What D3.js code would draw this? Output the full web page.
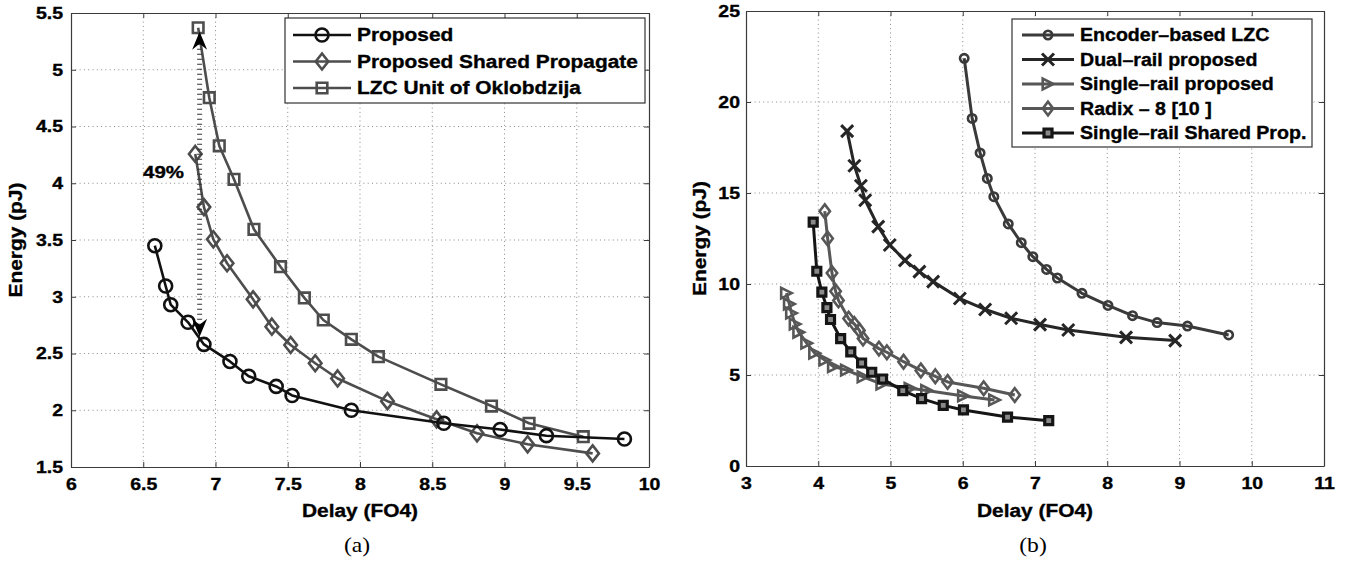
<!DOCTYPE html>
<html><head><meta charset="utf-8">
<script src="https://cdn.jsdelivr.net/npm/d3@7"></script>
<style>body{margin:0;background:#fff} svg{display:block}</style>
</head><body>
<svg id="c" width="1346" height="561"></svg>
<script>
// ---------- Panel (a) data ----------
const xTicksA = [6, 6.5, 7, 7.5, 8, 8.5, 9, 9.5, 10];
const yTicksA = [1.5, 2, 2.5, 3, 3.5, 4, 4.5, 5, 5.5];
const legendA = ["Proposed", "Proposed Shared Propagate", "LZC Unit of Oklobdzija"];
const propX   = [6.58, 6.655, 6.69, 6.81, 6.92, 7.10, 7.23, 7.42, 7.53, 7.94, 8.58, 8.97, 9.29, 9.83];
const propY   = [3.45, 3.095, 2.93, 2.775, 2.58, 2.43, 2.30, 2.21, 2.13, 2.00, 1.885, 1.83, 1.776, 1.747];
const sharedX = [6.86, 6.92, 6.985, 7.08, 7.26, 7.39, 7.52, 7.69, 7.845, 8.19, 8.53, 8.81, 9.16, 9.61];
const sharedY = [4.258, 3.79, 3.506, 3.295, 2.977, 2.736, 2.575, 2.414, 2.28, 2.08, 1.92, 1.797, 1.70, 1.62];
const lzcX    = [6.88, 6.957, 7.026, 7.128, 7.266, 7.45, 7.615, 7.746, 7.94, 8.127, 8.56, 8.91, 9.17, 9.545];
const lzcY    = [5.37, 4.754, 4.33, 4.035, 3.594, 3.265, 2.99, 2.795, 2.625, 2.472, 2.228, 2.037, 1.885, 1.767];
const arrowDelay = 6.89, arrowTop = 5.335, arrowBottom = 2.648;
const pctLabel = "49%", pctX = 6.64, pctY = 4.046;

// ---------- Panel (b) data ----------
const xTicksB = [3, 4, 5, 6, 7, 8, 9, 10, 11];
const yTicksB = [0, 5, 10, 15, 20, 25];
const legendB = ["Encoder–based LZC", "Dual–rail proposed", "Single–rail proposed", "Radix – 8 [10 ]", "Single–rail Shared Prop."];
const encX  = [6.02, 6.13, 6.24, 6.34, 6.43, 6.63, 6.81, 6.97, 7.16, 7.31, 7.65, 8.01, 8.35, 8.69, 9.11, 9.68];
const encY  = [22.4, 19.1, 17.2, 15.8, 14.8, 13.3, 12.27, 11.5, 10.8, 10.33, 9.49, 8.82, 8.26, 7.88, 7.69, 7.2];
const dualX = [4.40, 4.50, 4.59, 4.65, 4.83, 4.99, 5.20, 5.40, 5.59, 5.96, 6.31, 6.67, 7.07, 7.46, 8.26, 8.94];
const dualY = [18.4, 16.5, 15.4, 14.6, 13.15, 12.14, 11.3, 10.68, 10.13, 9.2, 8.6, 8.12, 7.77, 7.47, 7.07, 6.89];
const singX = [3.56, 3.60, 3.63, 3.68, 3.73, 3.84, 3.95, 4.09, 4.21, 4.39, 4.62, 4.88, 5.27, 5.50, 6.01, 6.44];
const singY = [9.5, 8.9, 8.4, 7.8, 7.35, 6.75, 6.2, 5.82, 5.46, 5.27, 4.9, 4.5, 4.27, 4.15, 3.85, 3.63];
const radX  = [4.09, 4.13, 4.19, 4.24, 4.28, 4.42, 4.50, 4.57, 4.62, 4.84, 4.95, 5.18, 5.42, 5.62, 5.79, 6.29, 6.72];
const radY  = [14.0, 12.5, 10.6, 9.6, 9.1, 8.1, 7.8, 7.45, 7.0, 6.45, 6.25, 5.73, 5.25, 4.93, 4.62, 4.27, 3.9];
const shpX  = [3.93, 3.98, 4.05, 4.12, 4.17, 4.31, 4.45, 4.60, 4.74, 4.89, 5.17, 5.43, 5.73, 6.01, 6.62, 7.19];
const shpY  = [13.4, 10.7, 9.55, 8.7, 8.05, 7.0, 6.27, 5.66, 5.15, 4.78, 4.14, 3.7, 3.33, 3.08, 2.69, 2.49];

const xLabel = "Delay (FO4)", yLabel = "Energy (pJ)";

// ---------- drawing ----------
const svg = d3.select("#c");
const FONT = "'Liberation Sans', Arial, Helvetica, sans-serif";
const SERIF = "'Liberation Serif', 'Times New Roman', serif";

function txt(g, x, y, s, o) {
  o = o || {};
  const t = g.append("text")
    .attr("transform", `translate(${x},${y})${o.rot ? ` rotate(${o.rot})` : ""} scale(${o.sx || 1},1)`)
    .attr("text-anchor", o.anchor || "start")
    .attr("font-family", o.family || FONT)
    .attr("font-weight", o.weight || "bold")
    .attr("font-size", o.size)
    .attr("fill", "#000")
    .text(s);
  if ((o.weight || "bold") === "bold") t.attr("stroke", "#000").attr("stroke-width", 0.35);
  if (o.dy) t.attr("dy", o.dy);
  return t;
}

const shapes = {
  circle: r => `M${r},0A${r},${r},0,1,1,${-r},0A${r},${r},0,1,1,${r},0Z`,
  diamond: (w, h) => `M0,${-h}L${w},0L0,${h}L${-w},0Z`,
  square: s => `M${-s},${-s}h${2*s}v${2*s}h${-2*s}Z`,
  cross: s => `M${-s},${-s}L${s},${s}M${-s},${s}L${s},${-s}`,
  tri: s => `M${s},0L${-s},${-s}L${-s},${s}Z`
};

function panel(cfg) {
  const b = cfg.box;
  const x = d3.scaleLinear().domain(cfg.xDomain).range([b.x0, b.x1]);
  const y = d3.scaleLinear().domain(cfg.yDomain).range([b.y1, b.y0]);
  const g = svg.append("g");

  // grid
  g.append("g").selectAll("line").data(cfg.xTicks.slice(1, -1)).join("line")
    .attr("x1", d => x(d)).attr("x2", d => x(d)).attr("y1", b.y0).attr("y2", b.y1)
    .attr("stroke", "#8a8a8a").attr("stroke-width", 1).attr("stroke-dasharray", "1,3.3");
  g.append("g").selectAll("line").data(cfg.yTicks.slice(1, -1)).join("line")
    .attr("y1", d => y(d)).attr("y2", d => y(d)).attr("x1", b.x0).attr("x2", b.x1)
    .attr("stroke", "#8a8a8a").attr("stroke-width", 1).attr("stroke-dasharray", "1,3.3");

  const tfmt = d => String(d);
  g.append("g").attr("transform", `translate(0,${b.y1})`)
    .call(d3.axisBottom(x).tickValues(cfg.xTicks).tickFormat(tfmt).tickSizeInner(-5).tickSizeOuter(0).tickPadding(11));
  g.append("g").attr("transform", `translate(${b.x0},0)`)
    .call(d3.axisLeft(y).tickValues(cfg.yTicks).tickFormat(tfmt).tickSizeInner(-5).tickSizeOuter(0).tickPadding(cfg.yPad));
  g.append("g").attr("transform", `translate(0,${b.y0})`)
    .call(d3.axisTop(x).tickValues(cfg.xTicks).tickFormat("").tickSizeInner(-5).tickSizeOuter(0));
  g.append("g").attr("transform", `translate(${b.x1},0)`)
    .call(d3.axisRight(y).tickValues(cfg.yTicks).tickFormat("").tickSizeInner(-5).tickSizeOuter(0));
  g.selectAll(".domain").attr("stroke", "#3a3a3a").attr("stroke-width", 1.2);
  g.selectAll(".tick line").attr("stroke", "#3a3a3a").attr("stroke-width", 1);
  g.selectAll(".tick text")
    .attr("font-family", FONT).attr("font-weight", "bold").attr("font-size", 16.5).attr("fill", "#000")
    .attr("stroke", "#000").attr("stroke-width", 0.35)
    .attr("transform", "scale(1.18,1)");

  // labels
  txt(g, (b.x0 + b.x1) / 2, 517, xLabel, {size: 18.5, sx: 1.13, anchor: "middle"});
  txt(g, cfg.yLabX, (b.y0 + b.y1) / 2, yLabel, {size: 18.5, sx: 1.13, anchor: "middle", rot: -90});
  txt(g, cfg.capX, 552, cfg.caption, {size: 20, sx: 1.18, anchor: "middle", weight: "normal", family: SERIF});

  return {g, x, y};
}

function drawSeries(P, xs, ys, st) {
  const pts = xs.map((v, i) => [v, ys[i]]);
  const line = d3.line().x(d => P.x(d[0])).y(d => P.y(d[1]));
  P.g.append("path").datum(pts).attr("d", line)
    .attr("fill", "none").attr("stroke", st.color).attr("stroke-width", st.lw).attr("stroke-linejoin", "round");
  P.g.append("g").selectAll("path").data(pts).join("path")
    .attr("transform", d => `translate(${P.x(d[0])},${P.y(d[1])})`)
    .attr("d", st.marker)
    .attr("fill", st.fill || "none").attr("stroke", st.color).attr("stroke-width", st.mw)
    .attr("stroke-linejoin", "miter");
}

function legend(P, box, items, o) {
  const lg = P.g.append("g");
  lg.append("rect").attr("x", box.x).attr("y", box.y).attr("width", box.w).attr("height", box.h)
    .attr("fill", "#fff").attr("stroke", "#333").attr("stroke-width", 1.2);
  items.forEach((it, i) => {
    const cy = o.y0 + i * o.dy;
    lg.append("line").attr("x1", o.lx0).attr("x2", o.lx1).attr("y1", cy).attr("y2", cy)
      .attr("stroke", it.st.color).attr("stroke-width", it.st.lw);
    lg.append("path").attr("transform", `translate(${(o.lx0 + o.lx1) / 2},${cy})`)
      .attr("d", it.st.marker).attr("fill", it.st.fill || "none")
      .attr("stroke", it.st.color).attr("stroke-width", it.st.mw);
    txt(lg, o.tx, cy, it.label, {size: o.size, sx: o.sx, dy: "0.35em"});
  });
}

// ---- Panel (a) ----
const A = panel({
  box: {x0: 71, x1: 649, y0: 13, y1: 467},
  xDomain: [6, 10], yDomain: [1.5, 5.5],
  xTicks: xTicksA, yTicks: yTicksA, yPad: 6.8,
  yLabX: 22, capX: 357, caption: "(a)"
});
const stProp   = {color: "#111", lw: 2.6, mw: 2.6, marker: shapes.circle(6.5)};
const stShared = {color: "#4d4d4d", lw: 2.6, mw: 2.6, marker: shapes.diamond(6.3, 8)};
const stLzc    = {color: "#4d4d4d", lw: 2.6, mw: 2.6, marker: shapes.square(5.3)};
drawSeries(A, lzcX, lzcY, stLzc);
drawSeries(A, sharedX, sharedY, stShared);
drawSeries(A, propX, propY, stProp);

// annotation: dotted double arrow + 49%
(function () {
  const ax = A.x(arrowDelay), yt = A.y(arrowTop), yb = A.y(arrowBottom);
  A.g.append("line").attr("x1", ax).attr("x2", ax).attr("y1", yt + 12).attr("y2", yb - 12)
    .attr("stroke", "#333").attr("stroke-width", 5).attr("stroke-dasharray", "1,4");
  A.g.append("path").attr("d", `M${ax},${yt}L${ax - 7.5},${yt + 18}L${ax},${yt + 12}L${ax + 7.5},${yt + 18}Z`).attr("fill", "#000");
  A.g.append("path").attr("d", `M${ax},${yb}L${ax - 7.5},${yb - 18}L${ax},${yb - 12}L${ax + 7.5},${yb - 18}Z`).attr("fill", "#000");
  txt(A.g, A.x(pctX), A.y(pctY), pctLabel, {size: 16.5, sx: 1.24, anchor: "middle"});
})();

legend(A, {x: 285, y: 18, w: 360, h: 85},
  [{label: legendA[0], st: stProp}, {label: legendA[1], st: stShared}, {label: legendA[2], st: stLzc}],
  {y0: 35, dy: 26.5, lx0: 293, lx1: 351, tx: 357, size: 18.5, sx: 1.13});

// ---- Panel (b) ----
const B = panel({
  box: {x0: 746, x1: 1324, y0: 11, y1: 466},
  xDomain: [3, 11], yDomain: [0, 25],
  xTicks: xTicksB, yTicks: yTicksB, yPad: 5.1,
  yLabX: 706, capX: 1033, caption: "(b)"
});
const stEnc  = {color: "#3a3a3a", lw: 3, mw: 2.6, marker: shapes.circle(4.2)};
const stDual = {color: "#262626", lw: 3, mw: 3, marker: shapes.cross(6)};
const stSing = {color: "#575757", lw: 3, mw: 2.6, marker: shapes.tri(5.3)};
const stRad  = {color: "#575757", lw: 3, mw: 2.6, marker: shapes.diamond(5.2, 6.8)};
const stShp  = {color: "#151515", lw: 3, mw: 3.2, marker: shapes.square(4), fill: "#8a8a8a"};
drawSeries(B, encX, encY, stEnc);
drawSeries(B, dualX, dualY, stDual);
drawSeries(B, singX, singY, stSing);
drawSeries(B, radX, radY, stRad);
drawSeries(B, shpX, shpY, stShp);

legend(B, {x: 1012, y: 19, w: 300, h: 128},
  [{label: legendB[0], st: stEnc}, {label: legendB[1], st: stDual}, {label: legendB[2], st: stSing},
   {label: legendB[3], st: stRad}, {label: legendB[4], st: stShp}],
  {y0: 35, dy: 24.5, lx0: 1022, lx1: 1074, tx: 1080, size: 17.5, sx: 1.12});
</script>
</body></html>
